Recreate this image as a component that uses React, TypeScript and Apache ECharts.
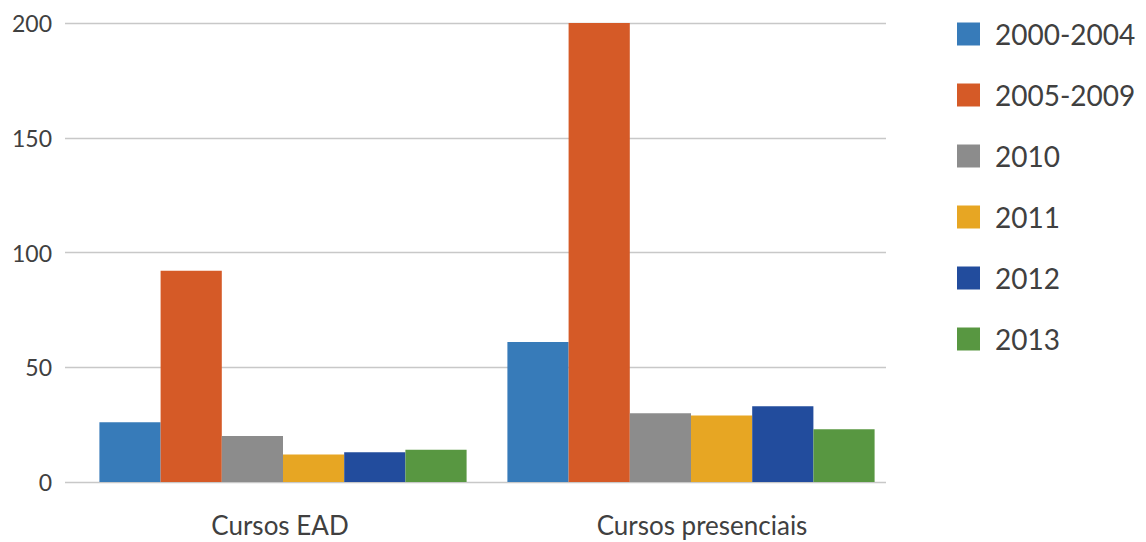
import React, { useEffect, useRef } from "react";
import * as echarts from "echarts";

const categories = ["Cursos EAD", "Cursos presenciais"];
const seriesNames = ["2000-2004", "2005-2009", "2010", "2011", "2012", "2013"];
const values2000_2004 = [26, 61];
const values2005_2009 = [92, 200];
const values2010 = [20, 30];
const values2011 = [12, 29];
const values2012 = [13, 33];
const values2013 = [14, 23];
const allValues = [values2000_2004, values2005_2009, values2010, values2011, values2012, values2013];
const colors = ["#377BB9", "#D55A27", "#8C8C8C", "#E7A623", "#224C9D", "#589741"];
const yMin = 0;
const yMax = 200;
const yInterval = 50;

export default function App() {
  const ref = useRef<HTMLDivElement>(null);
  useEffect(() => {
    document.body.style.margin = "0";
    if (!ref.current) return;
    const chart = echarts.init(ref.current, undefined, { renderer: "svg" });
    const font = "Lato, 'Open Sans', sans-serif";
    chart.setOption({
      animation: false,
      textStyle: { fontFamily: font },
      grid: [
        { left: 79, right: 251, top: 23, bottom: 60 },
        { left: 65, right: 260, top: 23, bottom: 60 },
      ],
      legend: {
        orient: "vertical",
        left: 957,
        top: 20,
        padding: 0,
        icon: "rect",
        itemWidth: 23,
        itemHeight: 23,
        itemGap: 33,
        data: seriesNames,
        textStyle: {
          fontFamily: font,
          fontSize: 28,
          lineHeight: 28,
          color: "#404040",
          padding: [0, 0, 0, 10],
        },
      },
      xAxis: [
        {
          type: "category",
          gridIndex: 0,
          data: categories,
          axisLine: { show: false },
          axisTick: { show: false },
          axisLabel: {
            margin: 30,
            fontSize: 26,
            color: "#404040",
            fontFamily: font,
            formatter: (v: string, i: number) => (i === 1 ? `{p|${v}}` : `{a|${v}}`),
            rich: {
              a: { fontSize: 26, color: "#404040", fontFamily: font, padding: [0, 6, 0, 0] },
              p: { fontSize: 26, color: "#404040", fontFamily: font, padding: [0, 0, 0, 22] },
            },
          },
        },
        {
          type: "category",
          gridIndex: 1,
          data: categories,
          show: false,
        },
      ],
      yAxis: [
        {
          type: "value",
          gridIndex: 0,
          min: yMin,
          max: yMax,
          interval: yInterval,
          show: false,
          splitLine: { show: false },
        },
        {
          type: "value",
          gridIndex: 1,
          min: yMin,
          max: yMax,
          interval: yInterval,
          axisLine: { show: false },
          axisTick: { show: false },
          axisLabel: { margin: 13, fontSize: 23, color: "#404040", fontFamily: font },
          splitLine: { show: true, lineStyle: { color: "#C8C8C8", width: 1.3 } },
        },
      ],
      series: seriesNames.map((name, i) => ({
        name,
        type: "bar",
        xAxisIndex: 0,
        yAxisIndex: 0,
        data: allValues[i],
        barGap: "0%",
        barCategoryGap: "10%",
        itemStyle: { color: colors[i] },
      })),
    });
    return () => chart.dispose();
  }, []);
  return <div ref={ref} style={{ width: 1146, height: 542 }} />;
}
